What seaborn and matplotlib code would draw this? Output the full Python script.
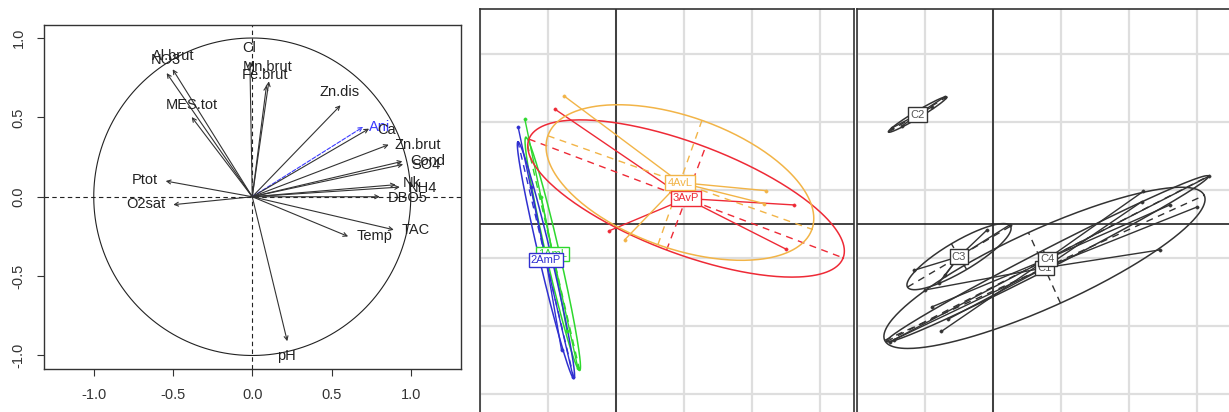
import numpy as np
import matplotlib
matplotlib.use("Agg")
import matplotlib.pyplot as plt
import seaborn as sns

# ---- left panel: correlation circle (arrow tips and label centres)
var_names = ["Al.brut", "NO3", "MES.tot", "Cl", "Mn.brut", "Fe.brut", "Zn.dis",
             "Ani", "Ca", "Zn.brut", "Cond", "SO4", "Nk", "NH4", "DBO5",
             "TAC", "Temp", "pH", "Ptot", "O2sat"]
var_x = [-0.502, -0.540, -0.382, -0.015, 0.105, 0.090, 0.557,
         0.700, 0.737, 0.861, 0.947, 0.952, 0.905, 0.931, 0.805,
         0.893, 0.605, 0.221, -0.546, -0.498]
var_y = [0.803, 0.779, 0.502, 0.853, 0.727, 0.702, 0.576,
         0.440, 0.429, 0.328, 0.223, 0.204, 0.076, 0.061, 0.000,
         -0.208, -0.250, -0.910, 0.099, -0.050]
lab_x = [-0.500, -0.546, -0.384, -0.019, 0.097, 0.080, 0.548,
         0.805, 0.847, 1.046, 1.109, 1.095, 1.008, 1.076, 0.979,
         1.032, 0.773, 0.218, -0.679, -0.674]
lab_y = [0.885, 0.863, 0.576, 0.937, 0.817, 0.765, 0.660,
         0.437, 0.418, 0.324, 0.225, 0.202, 0.086, 0.057, -0.006,
         -0.208, -0.250, -1.004, 0.103, -0.048]
supp_vars = ["Ani"]

# ---- middle panel: sites (points, ellipse half-axes and angle)
site_names = ["1AmL", "2AmP", "3AvP", "4AvL"]
site_colors = ["#2ed82e", "#3030d0", "#ee2a36", "#f2b447"]
site_x = [[-1.34, -0.56, -1.10, -0.72],
          [-1.44, -0.63, -1.25, -0.80],
          [-0.90, 2.62, 2.50, -0.10],
          [-0.76, 2.21, 0.13, 2.18]]
site_y = [[1.54, -2.12, 0.40, -1.58],
          [1.43, -2.25, 0.55, -1.86],
          [1.69, 0.28, -0.37, -0.10],
          [1.88, 0.49, -0.23, 0.30]]
site_ell = [(1.76, 0.10, 103.0), (1.79, 0.09, 103.3),
            (2.47, 0.81, -20.7), (2.06, 0.97, -19.5)]

# ---- right panel: clusters
clus_names = ["C1", "C2", "C3", "C4"]
clus_x = [[2.46, 2.19, 3.00, -1.45, -0.66, -1.00],
          [-1.49, -0.71, -0.90, -1.34],
          [-1.16, -0.09, 0.25, -0.80, -0.70],
          [3.17, 2.21, 2.60, -1.51, -0.90, -0.76]]
clus_y = [[-0.38, 0.33, 0.25, -1.70, -1.40, -0.97],
          [1.41, 1.87, 1.72, 1.44],
          [-0.68, -0.09, -0.01, -0.87, -0.75],
          [0.70, 0.48, 0.28, -1.73, -1.22, -1.58]]
clus_ell = [(2.58, 0.57, 24.4), (0.50, 0.05, 31.0),
            (0.88, 0.22, 30.6), (2.66, 0.14, 27.2)]

sns.set_style("white")
plt.rcParams["font.family"] = ["Liberation Sans", "DejaVu Sans"]

W, H = 1229, 412
fig = plt.figure(figsize=(W / 100, H / 100), dpi=100)


def box(l, t, r, b):
    return [l / W, 1 - b / H, (r - l) / W, (b - t) / H]


# ---------- correlation circle
ax = fig.add_axes(box(43.5, 25, 461, 368.5))
ax.set_xlim(-1.317, 1.317)
ax.set_ylim(-1.082, 1.082)
t = np.linspace(0, 2 * np.pi, 400)
ax.plot(np.cos(t), np.sin(t), color="#222222", lw=0.8)
ax.axhline(0, color="#222222", lw=0.8, ls=(0, (4, 3)))
ax.axvline(0, color="#222222", lw=0.8, ls=(0, (4, 3)))
for name, x, y, lx, ly in zip(var_names, var_x, var_y, lab_x, lab_y):
    col = "#3a3aff" if name in supp_vars else "#333333"
    ls = "--" if name in supp_vars else "-"
    ax.annotate("", xy=(x, y), xytext=(0, 0),
                arrowprops=dict(arrowstyle="->", color=col, lw=0.8, ls=ls,
                                shrinkA=0, shrinkB=0, mutation_scale=7))
    ax.text(lx, ly, name, ha="center", va="center", fontsize=10.5,
            color="#3a3aff" if name in supp_vars else "#222222")
ax.set_xticks([-1, -0.5, 0, 0.5, 1])
ax.set_xticklabels(["-1.0", "-0.5", "0.0", "0.5", "1.0"])
ax.set_yticks([-1, -0.5, 0, 0.5, 1])
ax.set_yticklabels(["-1.0", "-0.5", "0.0", "0.5", "1.0"], rotation=90, va="center")
ax.tick_params(direction="out", length=5, width=0.8, labelsize=10.5,
               colors="#333333", left=True, bottom=True, pad=9)
ax.tick_params(axis="y", pad=8)
for s in ax.spines.values():
    s.set_color("#333333")
    s.set_linewidth(1.0)


# ---------- s.class panels
def class_panel(ax, names, xs, ys, ells, colors):
    ax.set_xlim(-2.0, 3.5)
    ax.set_ylim(-2.765, 3.162)
    ax.set_xticks([-2, -1, 0, 1, 2, 3])
    ax.set_yticks([-2.5, -1.5, -0.5, 0.5, 1.5, 2.5])
    ax.grid(True, color="#dedede", lw=1.6)
    ax.set_axisbelow(True)
    ax.tick_params(length=0, labelbottom=False, labelleft=False)
    ax.axhline(0, color="#222222", lw=1.2, zorder=1)
    ax.axvline(0, color="#222222", lw=1.2, zorder=1)
    cents = []
    tt = np.linspace(0, 2 * np.pi, 300)
    for i, name in enumerate(names):
        c = colors[i]
        px, py = np.array(xs[i]), np.array(ys[i])
        cx, cy = px.mean(), py.mean()
        cents.append((cx, cy))
        a, b, ang = ells[i]
        th = np.deg2rad(ang)
        ex = cx + a * np.cos(tt) * np.cos(th) - b * np.sin(tt) * np.sin(th)
        ey = cy + a * np.cos(tt) * np.sin(th) + b * np.sin(tt) * np.cos(th)
        ax.plot(ex, ey, color=c, lw=1.1, zorder=2)
        ax.plot([cx - a * np.cos(th), cx + a * np.cos(th)],
                [cy - a * np.sin(th), cy + a * np.sin(th)],
                color=c, lw=1.0, ls=(0, (5, 4)), zorder=2)
        ax.plot([cx + b * np.sin(th), cx - b * np.sin(th)],
                [cy - b * np.cos(th), cy + b * np.cos(th)],
                color=c, lw=1.0, ls=(0, (5, 4)), zorder=2)
        for x, y in zip(px, py):
            ax.plot([cx, x], [cy, y], color=c, lw=1.0, zorder=2)
        sns.scatterplot(x=px, y=py, color=c, s=6, edgecolor=None,
                        legend=False, ax=ax, zorder=3)
    for i, name in enumerate(names):
        c = colors[i]
        tc = "#555555" if c == "#333333" else c
        ax.text(cents[i][0], cents[i][1], name, ha="center", va="center",
                fontsize=8, color=tc, zorder=5,
                bbox=dict(boxstyle="square,pad=0.2", fc="white", ec=c, lw=1.0))
    for s in ax.spines.values():
        s.set_color("#333333")
        s.set_linewidth(1.2)


ax2 = fig.add_axes(box(480, 9, 854, 412))
class_panel(ax2, site_names, site_x, site_y, site_ell, site_colors)
ax2.spines["bottom"].set_visible(False)

ax3 = fig.add_axes(box(857, 9, 1229, 412))
class_panel(ax3, clus_names, clus_x, clus_y, clus_ell, ["#333333"] * 4)
ax3.set_xlim(-2.0, 3.47)
ax3.spines["bottom"].set_visible(False)
ax3.spines["right"].set_visible(False)

fig.savefig("out.png", dpi=100)
